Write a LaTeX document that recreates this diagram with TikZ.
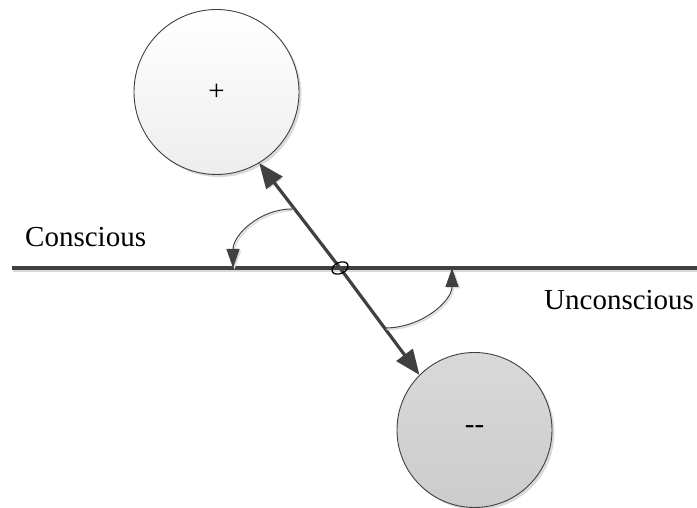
\documentclass[tikz,border=0pt]{standalone}
\usepackage{fontspec}
\setmainfont{Liberation Serif}
\usetikzlibrary{arrows.meta,shadows,calc}
\definecolor{ink}{HTML}{404040}
\definecolor{shade}{HTML}{DADADA}
\tikzset{
  label text/.style={font=\fontsize{29}{34}\selectfont, inner sep=0pt},
  pole/.style={circle, draw=ink, line width=0.9pt, inner sep=0pt,
    drop shadow={shadow xshift=2.5pt, shadow yshift=-2.5pt, fill=shade, opacity=1},
    font=\fontsize{29}{34}\selectfont},
  axis line/.style={draw=ink, line width=3.2pt,
    preaction={draw=shade, line width=3.2pt, transform canvas={shift={(1pt,-2.5pt)}}}},
  vector/.style={draw=ink, line width=3.2pt, -{Triangle[length=25pt,width=20pt]},
    preaction={draw=shade, transform canvas={shift={(2pt,-2pt)}}}},
  turn/.style={draw=ink, line width=1pt, -{Triangle[length=19pt,width=13pt]},
    preaction={draw=shade, line width=1.4pt, transform canvas={shift={(1.5pt,-1.5pt)}}}},
}
\begin{document}
\begin{tikzpicture}[x=1pt,y=1pt]
  \useasboundingbox (0,0) rectangle (697,507);

  % the two poles
  \node[pole, minimum size=165pt, top color=white, bottom color=black!7] (plus) at (216.5,415) {+};
  \node[pole, minimum size=155pt, top color=black!15, bottom color=black!20] (minus) at (474.5,77) {{-}{-}};

  % threshold between the two levels
  \coordinate (lineL) at (12,239);
  \coordinate (lineR) at (697,239);
  \draw[axis line] (lineL) -- (lineR);

  \node[label text, anchor=base west] (con) at (25,260) {Conscious};
  \node[label text, anchor=base west] (uncon) at (544,197) {Unconscious};

  % pivot and the two directions
  \coordinate (pivot) at (340,239);
  \draw[vector] (pivot) -- (plus.-59);
  \draw[vector] (pivot) -- (minus.135);
  \draw[black, line width=1.3pt, fill=none] (pivot) ellipse [x radius=8.5pt, y radius=5.5pt, rotate=25];

  % rotation arcs
  \coordinate (arcA) at (292,298);
  \coordinate (arcB) at (385,179);
  \draw[turn] (arcA) arc[start angle=90, end angle=180, radius=59];
  \draw[turn] (arcB) arc[start angle=-90, end angle=0, x radius=67, y radius=60];
\end{tikzpicture}
\end{document}
